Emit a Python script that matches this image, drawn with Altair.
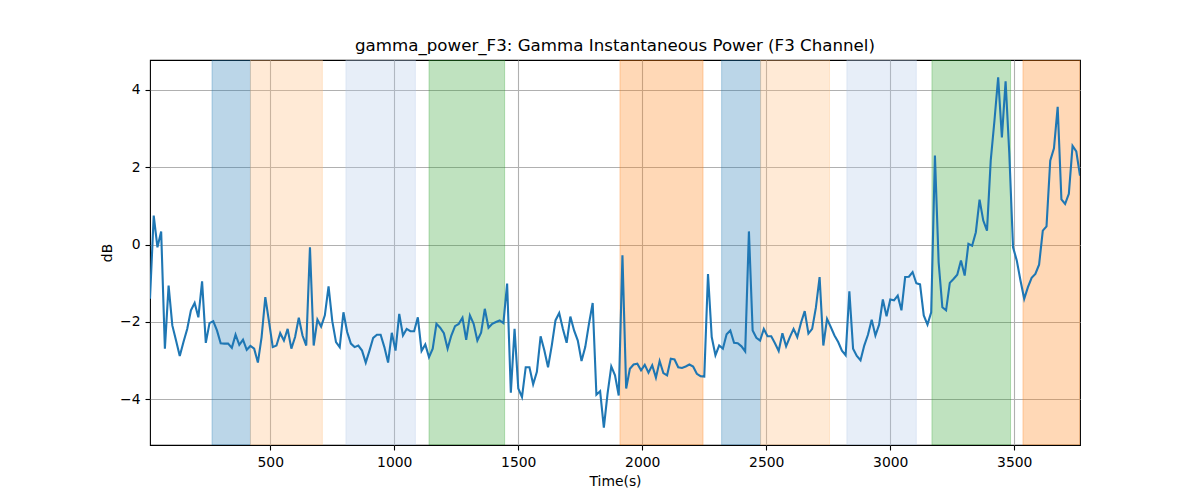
import altair as alt
import pandas as pd

# sample times (s), one every 15 s
time_s = list(range(15, 3766, 15))

power_db = [
    -1.40, 0.75, -0.07, 0.34, -2.69, -1.06, -2.09, -2.48, -2.88, -2.52,
    -2.18, -1.70, -1.51, -1.88, -0.95, -2.54, -2.03, -1.98, -2.22, -2.55,
    -2.56, -2.56, -2.67, -2.33, -2.59, -2.46, -2.72, -2.62, -2.69, -3.05,
    -2.39, -1.36, -2.00, -2.65, -2.61, -2.29, -2.48, -2.18, -2.69, -2.39,
    -1.89, -2.35, -2.61, -0.07, -2.61, -1.94, -2.12, -1.83, -1.08, -1.98,
    -2.52, -2.65, -1.75, -2.26, -2.56, -2.65, -2.61, -2.74, -3.05, -2.74,
    -2.41, -2.33, -2.33, -2.65, -3.05, -2.28, -2.74, -1.79, -2.35, -2.18,
    -2.24, -2.24, -1.88, -2.75, -2.58, -2.91, -2.69, -2.05, -2.15, -2.29,
    -2.69, -2.35, -2.11, -2.05, -1.89, -2.46, -1.83, -2.05, -2.48, -2.28,
    -1.66, -2.15, -2.05, -2.00, -1.96, -2.03, -1.01, -3.83, -2.18, -3.72,
    -3.94, -3.17, -3.17, -3.61, -3.29, -2.37, -2.73, -3.17, -2.61, -1.96,
    -1.77, -2.18, -2.54, -1.86, -2.22, -2.48, -3.01, -2.65, -2.05, -1.51,
    -3.88, -3.79, -4.73, -3.85, -3.15, -3.38, -3.90, -0.28, -3.72, -3.21,
    -3.10, -3.08, -3.25, -3.11, -3.31, -3.12, -3.44, -3.01, -3.32, -3.38,
    -2.95, -2.97, -3.17, -3.19, -3.15, -3.10, -3.15, -3.34, -3.40, -3.41,
    -0.76, -2.39, -2.86, -2.61, -2.69, -2.32, -2.22, -2.54, -2.55, -2.63,
    -2.76, 0.34, -2.22, -2.41, -2.48, -2.18, -2.37, -2.37, -2.55, -2.75,
    -2.29, -2.63, -2.39, -2.18, -2.39, -2.02, -1.72, -2.30, -2.18, -1.63,
    -0.84, -2.61, -1.92, -2.13, -2.35, -2.52, -2.74, -2.86, -1.21, -2.69,
    -2.88, -2.99, -2.61, -2.33, -1.94, -2.35, -2.07, -1.42, -1.85, -1.42,
    -1.44, -1.32, -1.70, -0.84, -0.83, -0.71, -1.00, -1.03, -1.83, -2.07,
    -1.75, 2.30, -0.46, -1.62, -1.70, -0.99, -0.89, -0.78, -0.41, -0.80,
    0.02, -0.03, 0.32, 1.16, 0.62, 0.36, 2.17, 3.20, 4.32, 2.77,
    4.22, 2.34, -0.07, -0.41, -0.93, -1.40, -1.10, -0.86, -0.76, -0.52,
    0.36, 0.47, 2.17, 2.49, 3.56, 1.17, 1.05, 1.31, 2.55, 2.41,
    1.78,
]

band_start = [265, 420, 805, 1140, 1910, 2320, 2477, 2825, 3168, 3535]
band_end = [420, 710, 1085, 1445, 2245, 2477, 2755, 3105, 3485, 3765]
band_color = ["#1f77b4", "#ffbb78", "#aec7e8", "#2ca02c", "#ff7f0e",
              "#1f77b4", "#ffbb78", "#aec7e8", "#2ca02c", "#ff7f0e"]

x_ticks = [500, 1000, 1500, 2000, 2500, 3000, 3500]
y_ticks = [-4, -2, 0, 2, 4]

line_df = pd.DataFrame({"t": time_s, "db": power_db})
band_df = pd.DataFrame({"start": band_start, "end": band_end, "color": band_color})

xscale = alt.Scale(domain=[15, 3765], nice=False, zero=False)
yscale = alt.Scale(domain=[-5.18, 4.77], nice=False, zero=False)

x_axis = alt.Axis(values=x_ticks, title="Time(s)", format="d")
y_axis = alt.Axis(values=y_ticks, title="dB", format="d")

bands = alt.Chart(band_df).mark_rect(
    fillOpacity=0.3, strokeOpacity=0.3, strokeWidth=1, clip=True
).encode(
    x=alt.X("start:Q", scale=xscale, axis=x_axis),
    x2="end:Q",
    fill=alt.Fill("color:N", scale=None),
    stroke=alt.Stroke("color:N", scale=None),
)

line = alt.Chart(line_df).mark_line(
    color="#1f77b4", strokeWidth=2.1, clip=True
).encode(
    x=alt.X("t:Q", scale=xscale, axis=x_axis),
    y=alt.Y("db:Q", scale=yscale, axis=y_axis),
)

chart = alt.layer(bands, line).properties(
    width=930,
    height=385,
    autosize=alt.AutoSizeParams(type="none"),
    padding={"left": 142, "top": 52, "right": 112, "bottom": 47},
    title=alt.TitleParams(
        "gamma_power_F3: Gamma Instantaneous Power (F3 Channel)",
        font="DejaVu Sans", fontSize=16.67, fontWeight="normal",
        color="black", anchor="middle", baseline="alphabetic", offset=8,
        dy=16,
    ),
).configure_view(
    stroke="black", strokeWidth=1.1
).configure_axis(
    domain=False,
    grid=True, gridColor="#b0b0b0", gridWidth=1.1,
    tickColor="black", tickSize=5, tickWidth=1.1,
    labelFont="DejaVu Sans", labelFontSize=13.9, labelColor="black",
    labelPadding=5,
    titleFont="DejaVu Sans", titleFontSize=13.9, titleFontWeight="normal",
    titleColor="black",
).configure_axisX(
    titlePadding=6,
).configure_axisY(
    titlePadding=5,
)

chart.save("out.html", embed_options={"renderer": "svg", "actions": False})
